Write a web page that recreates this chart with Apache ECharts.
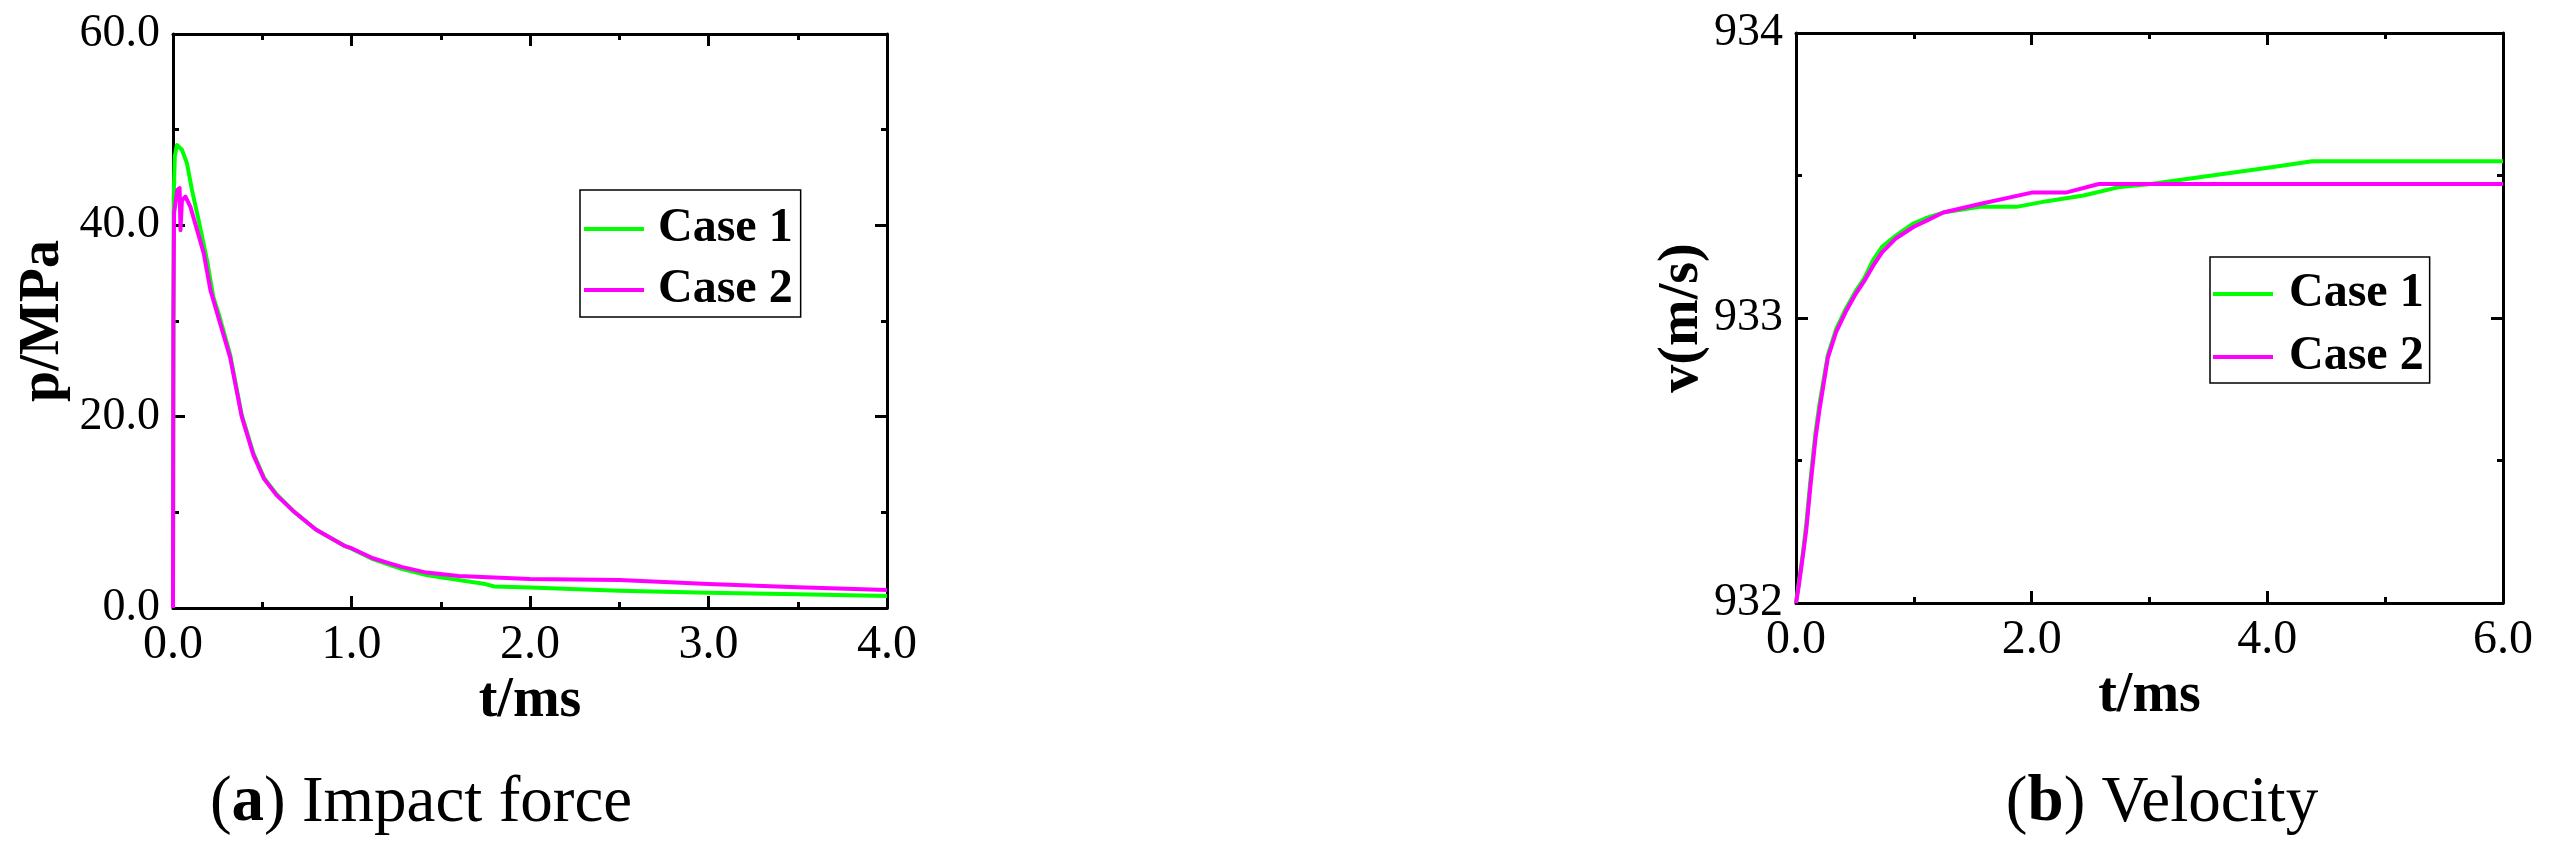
<!DOCTYPE html>
<html>
<head>
<meta charset="utf-8">
<script src="https://cdn.jsdelivr.net/npm/echarts@6/dist/echarts.min.js"></script>
<style>
html,body{margin:0;padding:0;background:#fff;}
#c{width:2558px;height:856px;}
</style>
</head>
<body>
<div id="c"></div>
<script>
// (a) Impact force
const tA1 = [0, 0.004, 0.01, 0.022, 0.05, 0.078, 0.106, 0.143, 0.19, 0.226, 0.26, 0.32, 0.385, 0.45, 0.51, 0.58, 0.67, 0.8, 0.96, 1.0, 1.12, 1.2, 1.28, 1.42, 1.5, 1.75, 1.8, 2.0, 2.5, 3.0, 3.5, 4.0];
const pA1 = [0, 43, 47.2, 48.4, 47.9, 46.5, 43.7, 40.6, 36.4, 32.5, 30.5, 26.5, 20.2, 16.2, 13.6, 11.9, 10.2, 8.2, 6.5, 6.2, 5.1, 4.6, 4.1, 3.45, 3.2, 2.5, 2.25, 2.15, 1.8, 1.6, 1.43, 1.25];
const tA2 = [0, 0.002, 0.006, 0.024, 0.037, 0.042, 0.05, 0.07, 0.098, 0.135, 0.172, 0.21, 0.26, 0.32, 0.385, 0.45, 0.51, 0.58, 0.67, 0.8, 0.96, 1.0, 1.12, 1.2, 1.28, 1.42, 1.6, 2.0, 2.5, 3.0, 3.5, 4.0];
const pA2 = [0, 30, 41.3, 43.7, 43.9, 39.5, 42.6, 43.0, 41.9, 39.5, 37.1, 33.2, 30.0, 26.2, 20.0, 16.0, 13.5, 11.8, 10.2, 8.2, 6.5, 6.25, 5.2, 4.75, 4.3, 3.7, 3.35, 3.03, 2.93, 2.5, 2.16, 1.88];
// (b) Velocity
const tB1 = [0, 0.02, 0.04, 0.06, 0.088, 0.12, 0.166, 0.2, 0.27, 0.34, 0.42, 0.5, 0.58, 0.65, 0.73, 0.85, 0.99, 1.1, 1.25, 1.56, 1.87, 2.13, 2.44, 2.75, 3.01, 3.53, 4.05, 4.38, 6.0];
const vB1 = [932, 932.06, 932.12, 932.18, 932.28, 932.42, 932.6, 932.7, 932.87, 932.96, 933.03, 933.09, 933.14, 933.2, 933.25, 933.29, 933.33, 933.35, 933.37, 933.39, 933.39, 933.41, 933.43, 933.46, 933.47, 933.5, 933.53, 933.55, 933.55];
const tB2 = [0, 0.02, 0.04, 0.06, 0.088, 0.12, 0.166, 0.2, 0.27, 0.34, 0.42, 0.5, 0.58, 0.65, 0.73, 0.85, 1.0, 1.1, 1.25, 1.56, 2.0, 2.29, 2.57, 6.0];
const vB2 = [932, 932.05, 932.11, 932.17, 932.26, 932.4, 932.58, 932.68, 932.86, 932.95, 933.02, 933.08, 933.13, 933.18, 933.23, 933.28, 933.32, 933.34, 933.37, 933.40, 933.44, 933.44, 933.47, 933.47];

const seriesNames = ['Case 1', 'Case 2'];
const captions = ['Impact force', 'Velocity'];
const xNames = ['t/ms', 't/ms'];
const yNames = ['p/MPa', 'v(m/s)'];

const GREEN = '#00ff00', MAGENTA = '#ff00ff';
const FONT = '"Liberation Serif", "Times New Roman", serif';

function zip(a, b) { return a.map((v, i) => [v, b[i]]); }

const tickStyle = { show: true, inside: true, length: 12, lineStyle: { color: '#000', width: 3 } };
const minorStyle = { show: true, splitNumber: 2, length: 6, lineStyle: { color: '#000', width: 3 } };
const lineStyleAx = { show: true, onZero: false, lineStyle: { color: '#000', width: 3 } };

function mainX(gi, min, max, interval, gap) {
  return {
    type: 'value', gridIndex: gi, min, max, interval, position: 'bottom',
    axisLine: lineStyleAx, axisTick: tickStyle, minorTick: minorStyle, splitLine: { show: false },
    axisLabel: { fontFamily: FONT, fontSize: 48, color: '#000', margin: 13, formatter: v => v.toFixed(1) },
    name: xNames[gi], nameLocation: 'middle', nameGap: gap,
    nameTextStyle: { fontFamily: FONT, fontSize: 56, fontWeight: 'bold', color: '#000' }
  };
}
function mirrorX(gi, min, max, interval) {
  return {
    type: 'value', gridIndex: gi, min, max, interval, position: 'top',
    axisLine: lineStyleAx, axisTick: tickStyle, minorTick: minorStyle, splitLine: { show: false },
    axisLabel: { show: false }
  };
}
function mainY(gi, min, max, interval, gap, fmt) {
  return {
    type: 'value', gridIndex: gi, min, max, interval, position: 'left',
    axisLine: lineStyleAx, axisTick: tickStyle, minorTick: minorStyle, splitLine: { show: false },
    axisLabel: { fontFamily: FONT, fontSize: 46, color: '#000', margin: 13, formatter: fmt },
    name: yNames[gi], nameLocation: 'middle', nameGap: gap, nameRotate: 90,
    nameTextStyle: { fontFamily: FONT, fontSize: 56, fontWeight: 'bold', color: '#000' }
  };
}
function mirrorY(gi, min, max, interval) {
  return {
    type: 'value', gridIndex: gi, min, max, interval, position: 'right',
    axisLine: lineStyleAx, axisTick: tickStyle, minorTick: minorStyle, splitLine: { show: false },
    axisLabel: { show: false }
  };
}

function legend(left, top, padding, gap, textPad) {
  return {
    orient: 'vertical', left, top, data: seriesNames,
    icon: 'rect', itemWidth: 60, itemHeight: 4, itemGap: gap,
    padding, borderColor: '#000', borderWidth: 1.5, backgroundColor: '#fff',
    textStyle: { fontFamily: FONT, fontSize: 48, fontWeight: 'bold', color: '#000', lineHeight: 48, padding: [0, 0, 0, textPad] }
  };
}

function line(name, color, xi, data, z) {
  return {
    type: 'line', name, xAxisIndex: xi, yAxisIndex: xi, data,
    showSymbol: false, symbol: 'none', smooth: false,
    lineStyle: { color, width: 4, join: 'round' }, itemStyle: { color }, z, animation: false
  };
}

const chart = echarts.init(document.getElementById('c'), null, { renderer: 'canvas' });
chart.setOption({
  backgroundColor: '#fff',
  animation: false,
  grid: [
    { left: 173, top: 34, width: 714, height: 574 },
    { left: 1796, top: 33, width: 707, height: 570 }
  ],
  xAxis: [
    mainX(0, 0, 4, 1, 54),
    mainX(1, 0, 6, 2, 59),
    mirrorX(0, 0, 4, 1),
    mirrorX(1, 0, 6, 2)
  ],
  yAxis: [
    mainY(0, 0, 60, 20, 101, v => v.toFixed(1)),
    mainY(1, 932, 934, 1, 77, v => String(v)),
    mirrorY(0, 0, 60, 20),
    mirrorY(1, 932, 934, 1)
  ],
  legend: [
    legend(580, 190, [15, 8, 3, 4], 13, 9),
    legend(2210, 257, [13, 6, 2, 3], 15, 11)
  ],
  title: [
    { text: '({b|a}) ' + captions[0], left: 416, top: 766, textAlign: 'center',
      textStyle: { fontFamily: FONT, fontSize: 65, fontWeight: 'normal', color: '#000',
        rich: { b: { fontFamily: FONT, fontSize: 65, fontWeight: 'bold', color: '#000' } } } },
    { text: '({b|b}) ' + captions[1], left: 2157, top: 766, textAlign: 'center',
      textStyle: { fontFamily: FONT, fontSize: 65, fontWeight: 'normal', color: '#000',
        rich: { b: { fontFamily: FONT, fontSize: 65, fontWeight: 'bold', color: '#000' } } } }
  ],
  series: [
    line(seriesNames[0], GREEN, 0, zip(tA1, pA1), 2),
    line(seriesNames[1], MAGENTA, 0, zip(tA2, pA2), 3),
    line(seriesNames[0], GREEN, 1, zip(tB1, vB1), 2),
    line(seriesNames[1], MAGENTA, 1, zip(tB2, vB2), 3)
  ]
});
</script>
</body>
</html>
